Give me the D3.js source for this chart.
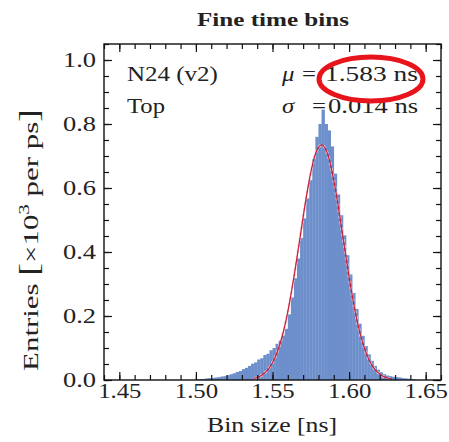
<!DOCTYPE html>
<html>
<head>
<meta charset="utf-8">
<script src="https://cdn.jsdelivr.net/npm/d3@7"></script>
<style>
  body { margin: 0; background: #fff; }
  svg text { font-family: "Liberation Serif", "Times New Roman", serif; fill: #222; }
</style>
</head>
<body>
<div id="chart"></div>
<script>
// Histogram: left edges of 2 ps bins (ns) and their heights (x10^3 per ps)
const binStart = 1.500;
const binWidth = 0.002;
const counts = [
  0.002, 0.003, 0.003, 0.005, 0.006, 0.006, 0.008, 0.009, 0.011, 0.012,
  0.015, 0.018, 0.021, 0.025, 0.028, 0.034, 0.038, 0.044, 0.051, 0.055,
  0.064, 0.068, 0.078, 0.082, 0.093, 0.100, 0.113, 0.123, 0.139, 0.160,
  0.205, 0.258, 0.318, 0.380, 0.444, 0.505, 0.568, 0.625, 0.690, 0.760,
  0.800, 0.845, 0.800, 0.780, 0.730, 0.645, 0.580, 0.515, 0.452, 0.390,
  0.330, 0.272, 0.222, 0.176, 0.138, 0.106, 0.080, 0.060, 0.044, 0.032,
  0.024, 0.018, 0.014, 0.012, 0.010, 0.009, 0.008, 0.006, 0.005, 0.004,
  0.003, 0.002
];

// Gaussian fit curve
const fitX = [
  1.538, 1.540, 1.542, 1.544, 1.546, 1.548, 1.550, 1.552, 1.554, 1.556,
  1.558, 1.560, 1.562, 1.564, 1.566, 1.568, 1.570, 1.572, 1.574, 1.576,
  1.578, 1.580, 1.582, 1.584, 1.586, 1.588, 1.590, 1.592, 1.594, 1.596,
  1.598, 1.600, 1.602, 1.604, 1.606, 1.608, 1.610, 1.612, 1.614, 1.616,
  1.618, 1.620, 1.622, 1.624, 1.626, 1.628
];
const fitY = [
  0.005, 0.008, 0.012, 0.019, 0.027, 0.039, 0.054, 0.074, 0.100, 0.131,
  0.169, 0.214, 0.265, 0.322, 0.383, 0.446, 0.509, 0.570, 0.624, 0.671,
  0.706, 0.727, 0.735, 0.727, 0.706, 0.671, 0.624, 0.570, 0.509, 0.446,
  0.383, 0.322, 0.265, 0.214, 0.169, 0.131, 0.100, 0.074, 0.054, 0.039,
  0.027, 0.019, 0.012, 0.008, 0.005, 0.003
];

const xMajor = [1.45, 1.50, 1.55, 1.60, 1.65];
const yMajor = [0.0, 0.2, 0.4, 0.6, 0.8, 1.0];
const fitText = [["\u03BC", "=", "1.583 ns"], ["\u03C3", "=", "0.014 ns"]];
const infoText = ["N24 (v2)", "Top"];

const [W, H] = [449, 442];
const [mLeft, mRight, mTop, mBottom] = [104, 441, 44, 380];
const stretch = 1.18; // the picture's lettering is wider than plain Times

const svg = d3.select("#chart").append("svg")
  .attr("width", W)
  .attr("height", H);

const x = d3.scaleLinear().domain([1.44, 1.66]).range([mLeft, mRight]);
const y = d3.scaleLinear().domain([0, 1.05]).range([mBottom, mTop]);

const xMinor = d3.range(1.44, 1.6601, 0.01).map(v => +v.toFixed(3));
const yMinor = d3.range(0, 1.0501, 0.05).map(v => +v.toFixed(3));

// put a text at (px, py) and stretch it sideways to a target width
function placeText(sel, px, py, width, rot) {
  const w = sel.node().getComputedTextLength();
  const s = width ? width / w : stretch;
  sel.attr("x", 0).attr("y", 0)
    .attr("transform", `translate(${px},${py})${rot ? " rotate(" + rot + ")" : ""} scale(${s},1)`);
  return sel;
}

// histogram bars
const plot = svg.append("g");
plot.selectAll("rect.bin")
  .data(counts)
  .enter()
  .append("rect")
  .attr("class", "bin")
  .attr("x", (d, i) => x(binStart + i * binWidth))
  .attr("width", (d, i) => x(binStart + (i + 1) * binWidth) - x(binStart + i * binWidth) + 0.3)
  .attr("y", d => y(d))
  .attr("height", d => y(0) - y(d))
  .attr("fill", "#6d8fcc");

// fit curve
const fitLine = d3.line()
  .x((d, i) => x(fitX[i]))
  .y(d => y(d))
  .curve(d3.curveCatmullRom);

plot.append("path")
  .attr("d", fitLine(fitY))
  .attr("fill", "none")
  .attr("stroke", "#f3d6da")
  .attr("stroke-width", 2.6)
  .attr("stroke-dasharray", "3 3");

plot.append("path")
  .attr("d", fitLine(fitY))
  .attr("fill", "none")
  .attr("stroke", "#c8223f")
  .attr("stroke-width", 1.3);

// axes with inward ticks
function addAxis(axisFn, scale, values, size, transform, labels, fmt) {
  const ax = axisFn(scale)
    .tickValues(values)
    .tickSize(-size)
    .tickPadding(4)
    .tickFormat(labels ? d3.format(fmt) : "");
  const g = svg.append("g").attr("transform", transform).call(ax);
  g.select(".domain").remove();
  g.selectAll(".tick line").attr("stroke", "#111").attr("stroke-width", 1.2);
  g.selectAll("text").style("font-size", "21px").attr("fill", "#222");
  return g;
}

addAxis(d3.axisBottom, x, xMinor, 5, `translate(0,${mBottom})`, false);
const xAx = addAxis(d3.axisBottom, x, xMajor, 8, `translate(0,${mBottom})`, true, ".2f");
xAx.selectAll("text")
  .attr("y", 0).attr("dy", null)
  .attr("transform", `translate(0,18) scale(${stretch},1)`);
addAxis(d3.axisTop, x, xMinor, 5, `translate(0,${mTop})`, false);
addAxis(d3.axisTop, x, xMajor, 8, `translate(0,${mTop})`, false);
addAxis(d3.axisLeft, y, yMinor, 5, `translate(${mLeft},0)`, false);
const yAx = addAxis(d3.axisLeft, y, yMajor, 8, `translate(${mLeft},0)`, true, ".1f");
yAx.selectAll("text")
  .attr("x", 0)
  .attr("transform", `translate(-8,0) scale(1.26,1)`);
addAxis(d3.axisRight, y, yMinor, 5, `translate(${mRight},0)`, false);
addAxis(d3.axisRight, y, yMajor, 8, `translate(${mRight},0)`, false);

svg.append("rect")
  .attr("x", mLeft)
  .attr("y", mTop)
  .attr("width", mRight - mLeft)
  .attr("height", mBottom - mTop)
  .attr("fill", "none")
  .attr("stroke", "#111")
  .attr("stroke-width", 1.4);

// title and axis titles
placeText(svg.append("text")
  .attr("text-anchor", "middle")
  .style("font-size", "19px")
  .style("font-weight", "bold")
  .attr("fill", "#111")
  .text("Fine time bins"), 273, 26, 152);

placeText(svg.append("text")
  .attr("text-anchor", "middle")
  .style("font-size", "21px")
  .text("Bin size [ns]"), 272, 432, 130);

const yTitle = svg.append("text")
  .attr("text-anchor", "middle")
  .style("font-size", "22px");
yTitle.append("tspan").text("Entries ");
yTitle.append("tspan").style("font-size", "27px").text("[");
yTitle.append("tspan").text("\u00D710");
yTitle.append("tspan").attr("dy", -9).style("font-size", "15px").text("3");
yTitle.append("tspan").attr("dy", 9).text(" per ps");
yTitle.append("tspan").style("font-size", "27px").text("]");
placeText(yTitle, 38, 240, 262, -90);

// info labels
const infoY = [81, 113];
const infoW = [91, 38];
infoText.forEach((t, i) => {
  placeText(svg.append("text").style("font-size", "21px").text(t), 127, infoY[i], infoW[i]);
});

const valueW = [93, 90];
fitText.forEach((row, i) => {
  const yy = infoY[i];
  placeText(svg.append("text").style("font-size", "21px").style("font-style", "italic")
    .text(row[0]), 282, yy, null);
  placeText(svg.append("text").style("font-size", "21px")
    .text(row[1]), i === 0 ? 302 : 312, yy, null);
  placeText(svg.append("text").attr("text-anchor", "end").style("font-size", "21px")
    .text(row[2]), 418, yy, valueW[i]);
});

// red annotation ellipse
svg.append("ellipse")
  .attr("cx", 371)
  .attr("cy", 79)
  .attr("rx", 52)
  .attr("ry", 22)
  .attr("fill", "none")
  .attr("stroke", "#e8141c")
  .attr("stroke-width", 5);
</script>
</body>
</html>
